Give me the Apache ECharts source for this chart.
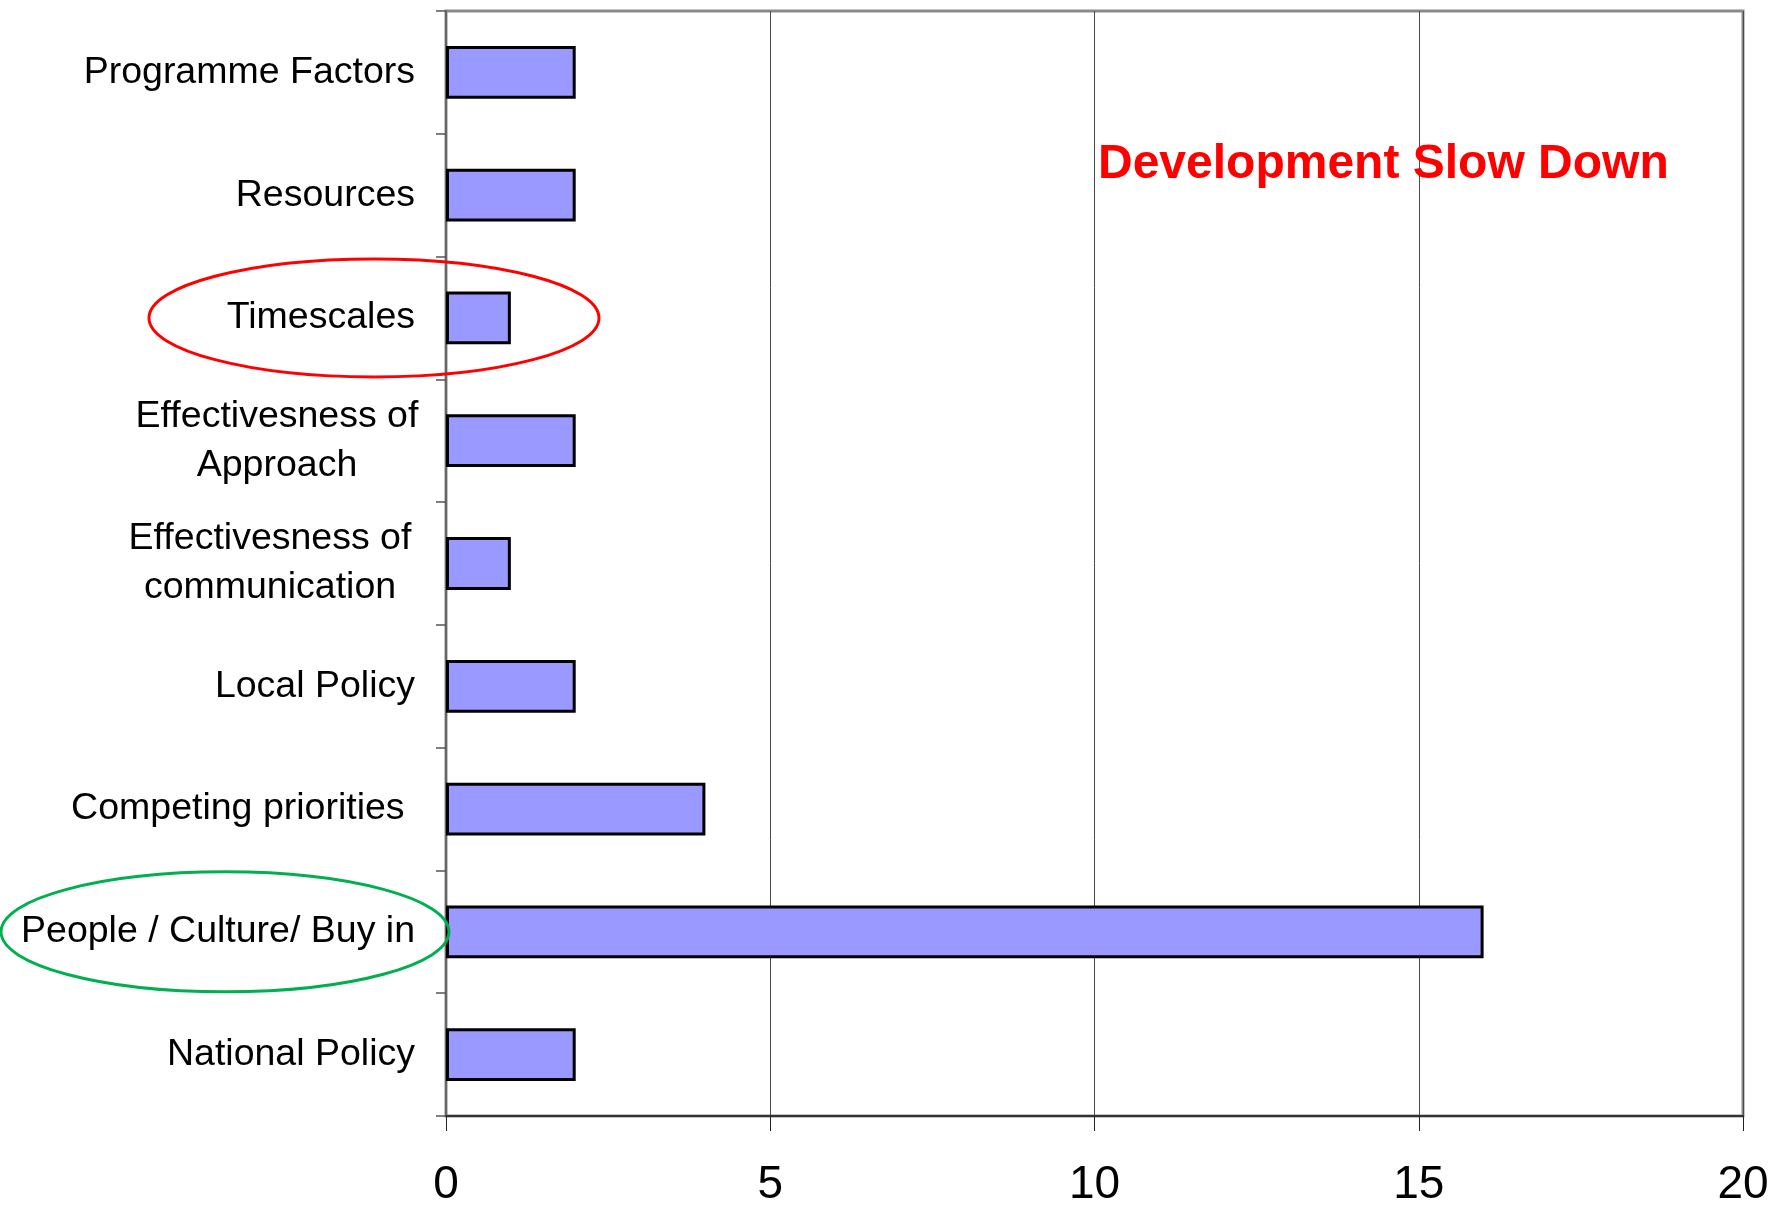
<!DOCTYPE html>
<html>
<head>
<meta charset="utf-8">
<script src="https://cdn.jsdelivr.net/npm/echarts@6/dist/echarts.min.js"></script>
<style>
html,body{margin:0;padding:0;background:#fff;}
#chart{width:1775px;height:1208px;}
</style>
</head>
<body>
<div id="chart"></div>
<script>
const categories = [
  'Programme Factors',
  'Resources',
  'Timescales',
  'Effectivesness of\nApproach',
  'Effectivesness of\ncommunication',
  'Local Policy',
  'Competing priorities ',
  'People / Culture/ Buy in',
  'National Policy'
];
const values = [2, 2, 1, 2, 1, 2, 4, 16, 2];
const xTickValues = [0, 5, 10, 15, 20];
const annotationTitle = 'Development Slow Down';
const highlightRed = 'Timescales';
const highlightGreen = 'People / Culture/ Buy in';

const FONT = '"Liberation Sans", Arial, sans-serif';
const chart = echarts.init(document.getElementById('chart'), null, {renderer: 'canvas'});

const option = {
  backgroundColor: '#ffffff',
  animation: false,
  title: {
    text: annotationTitle,
    left: 1093,
    top: 136,
    textStyle: {color: '#ff0000', fontSize: 48, fontWeight: 'bold', fontFamily: FONT}
  },
  grid: {
    left: 446, right: 32, top: 11, bottom: 91,
    show: true, borderColor: '#8a8a8a', borderWidth: 3, backgroundColor: 'transparent'
  },
  xAxis: {
    type: 'value',
    min: xTickValues[0],
    max: xTickValues[xTickValues.length - 1],
    interval: xTickValues[1] - xTickValues[0],
    axisLine: {show: true, lineStyle: {color: '#333', width: 2}},
    axisTick: {show: true, length: 15, lineStyle: {color: '#222', width: 1}},
    splitLine: {show: true, lineStyle: {color: '#4a4a4a', width: 1}},
    axisLabel: {
      color: '#000', fontSize: 46, fontFamily: FONT, margin: 46,
      formatter: v => String(v)
    }
  },
  yAxis: {
    type: 'category',
    inverse: true,
    data: categories,
    axisLine: {show: true, lineStyle: {color: '#666', width: 2}},
    axisTick: {show: true, length: 10, inside: false, lineStyle: {color: '#555', width: 1.5}},
    splitLine: {show: false},
    axisLabel: {
      color: '#000', fontSize: 37.5, fontFamily: FONT, margin: 27,
      formatter: function (v) {
        if (v.indexOf('\n') >= 0) {
          const st = v.indexOf('communication') >= 0 ? 'b' : 'a';
          return v.split('\n').map(p => '{' + st + '|' + p + '}').join('\n');
        }
        return '{s|' + v + '}';
      },
      rich: {
        s: {fontSize: 37.5, fontFamily: FONT, color: '#000', padding: [0, 4, 0, 0]},
        a: {fontSize: 37.5, fontFamily: FONT, color: '#000', width: 284, align: 'center', lineHeight: 49},
        b: {fontSize: 37.5, fontFamily: FONT, color: '#000', width: 284, align: 'center', lineHeight: 49, padding: [0, 7, 0, 0]}
      }
    }
  },
  series: [{
    type: 'bar',
    data: values,
    barWidth: '43%',
    itemStyle: {color: '#9999ff', borderColor: '#000', borderWidth: 3}
  }]
};
chart.setOption(option);

function addEllipses() {
  const yRed = chart.convertToPixel({yAxisIndex: 0}, highlightRed);
  const yGreen = chart.convertToPixel({yAxisIndex: 0}, highlightGreen);
  chart.setOption({
    graphic: [
      {type: 'ellipse', z: 100, shape: {cx: 374, cy: yRed, rx: 225, ry: 59},
       style: {fill: 'none', stroke: '#ff0000', lineWidth: 3}},
      {type: 'ellipse', z: 100, shape: {cx: 225, cy: yGreen, rx: 224, ry: 60},
       style: {fill: 'none', stroke: '#00b050', lineWidth: 3}}
    ]
  });
}
addEllipses();
</script>
</body>
</html>
